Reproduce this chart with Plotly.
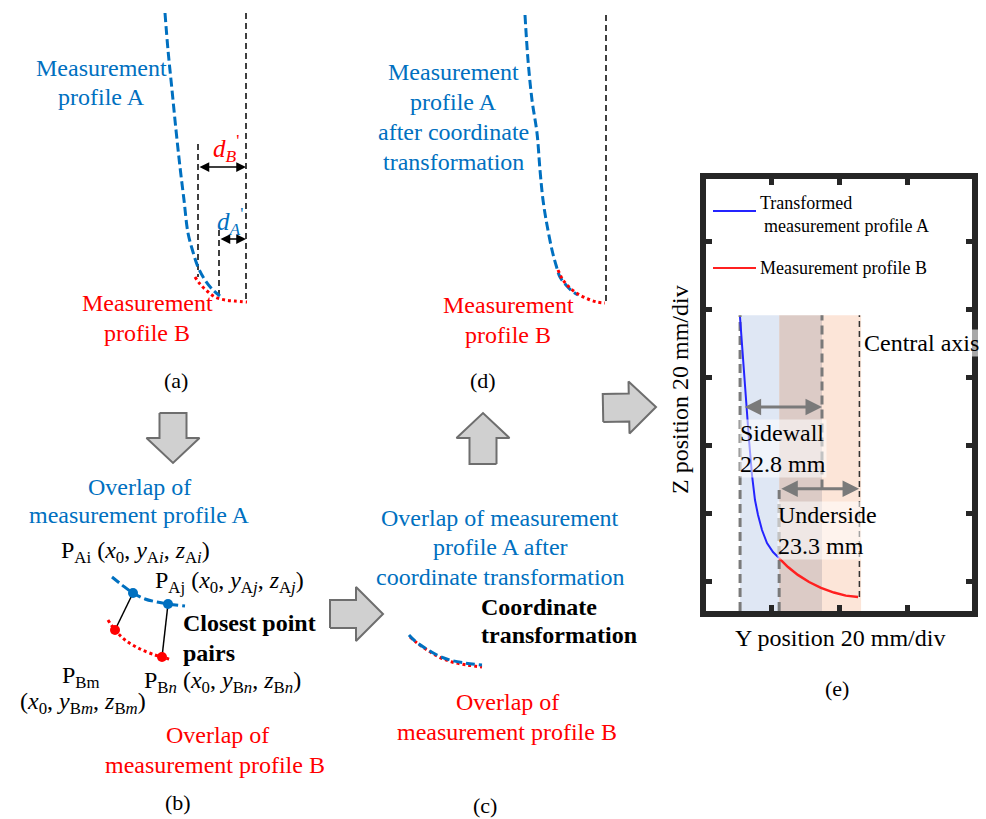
import math
import plotly.graph_objects as go

W, H = 986, 819
FONT = "Liberation Serif"
BLUE = "#0070C0"
RED = "#FF0000"
GREY_FILL = "#d0d0d0"
GREY_LINE = "#6e6e6e"

# ---------------- panel (a) : canvas pixel coordinates ----------------
a_prof_A_x = [165, 168, 172, 176, 180, 184, 188, 193, 198, 205, 213, 220]
a_prof_A_y = [13, 50, 90, 130, 167, 200, 233, 252, 267, 280, 290, 296]
a_prof_B_x = [195, 200, 207, 215, 225, 235, 247]
a_prof_B_y = [277, 284, 291, 297, 300, 301, 302]
a_guide_x = [246, 198, 219]
a_guide_top = [13, 144, 230]
a_guide_bottom = [300, 277, 295]
a_dim_from = [198, 219]
a_dim_to = [246, 246]
a_dim_y = [167, 239]

# ---------------- panel (d) ----------------
d_prof_A_x = [525, 528, 532, 537, 540, 543, 547, 552, 556, 560, 566, 572, 578]
d_prof_A_y = [15, 60, 100, 133, 170, 200, 225, 250, 265, 277, 285, 291, 295]
d_prof_B_x = [558, 563, 570, 578, 588, 597, 605]
d_prof_B_y = [270, 280, 288, 294, 299, 302, 303]
d_axis_x = 606
d_axis_y = [15, 303]

# ---------------- panel (b) ----------------
b_arc_A_x = [112, 122, 133, 145, 157, 168, 185]
b_arc_A_y = [577, 585, 593, 599, 602, 604, 606]
b_arc_B_x = [108, 115, 125, 140, 155, 162, 172]
b_arc_B_y = [620, 630, 640, 649, 655, 657, 660]
b_pts_A_x = [133, 168]
b_pts_A_y = [593, 604]
b_pts_B_x = [115, 162]
b_pts_B_y = [630, 657]

# ---------------- panel (c) ----------------
c_arc_A_x = [409, 415, 425, 437, 450, 465, 482]
c_arc_A_y = [635, 641, 648, 655, 660, 663, 665]
c_arc_B_x = [410, 417, 427, 439, 452, 467, 482]
c_arc_B_y = [637, 643, 650, 657, 662, 665, 667]

# block arrows: tail, tip, shaft width, head width, head length
block_arrows = [
    ((173, 413), (173, 463), 27, 53, 25),
    ((483, 464), (483, 413), 27, 53, 25),
    ((330, 614), (383, 614), 28, 54, 27),
    ((603, 408), (656, 407), 28, 52, 27),
]

# ---------------- panel (e) : millimetres ----------------
e_prof_A_y = [10.88, 11.76, 12.65, 13.53, 14.41, 15.29, 16.18, 17.35, 18.82, 20.59, 22.35]
e_prof_A_z = [77.65, 65.0, 53.24, 41.47, 31.18, 23.82, 19.41, 15.0, 11.18, 8.53, 6.76]
e_prof_B_y = [22.35, 25.0, 27.9, 31.2, 34.7, 38.5, 42.0, 45.6]
e_prof_B_z = [6.76, 4.1, 1.8, -0.3, -2.0, -3.4, -4.3, -4.7]
e_sidewall = [10.9, 35.0]
e_underside = [22.4, 46.5]
e_region_top = 78.2
e_central_axis = 46.0
e_sidewall_arrow = [11.8, 35.0, 51.2]
e_underside_arrow = [22.6, 45.9, 27.1]
e_ticks_y = [20, 40, 60]
e_ticks_z = [0, 20, 40, 60, 80, 100]
e_range_y = [0.88, 79.12]
e_range_z = [-8.82, 118.24]

fig = go.Figure()


def line(xs, ys, color, width, dash=None, ax="x", ay="y", shape="linear"):
    fig.add_trace(go.Scatter(x=xs, y=ys, mode="lines", xaxis=ax, yaxis=ay,
                             line=dict(color=color, width=width, dash=dash, shape=shape),
                             hoverinfo="skip", showlegend=False))


def txt(s, x, y, size=24, color="black", xanchor="center", angle=0, bg=None):
    fig.add_annotation(x=x, y=y, xref="x", yref="y", text=s, showarrow=False,
                       xanchor=xanchor, yanchor="middle", textangle=angle,
                       font=dict(family=FONT, size=size, color=color),
                       bgcolor=bg if bg else "rgba(0,0,0,0)", borderpad=0, align="left")


def dbl_arrow(x0, x1, y, color, width, size, xr="x", yr="y"):
    fig.add_annotation(x=x1, y=y, ax=x0, ay=y, xref=xr, yref=yr, axref=xr, ayref=yr,
                       text="", showarrow=True, arrowside="end+start", arrowhead=2,
                       arrowsize=size, arrowwidth=width, arrowcolor=color,
                       standoff=0, startstandoff=0)


def block_arrow(tail, tip, sw, hw, hl):
    dx, dy = tip[0] - tail[0], tip[1] - tail[1]
    L = math.hypot(dx, dy)
    ux, uy = dx / L, dy / L
    nx, ny = -uy, ux
    bx, by = tip[0] - ux * hl, tip[1] - uy * hl
    pts = [
        (tail[0] + nx * sw / 2, tail[1] + ny * sw / 2),
        (bx + nx * sw / 2, by + ny * sw / 2),
        (bx + nx * hw / 2, by + ny * hw / 2),
        tip,
        (bx - nx * hw / 2, by - ny * hw / 2),
        (bx - nx * sw / 2, by - ny * sw / 2),
        (tail[0] - nx * sw / 2, tail[1] - ny * sw / 2),
    ]
    pts.append(pts[0])
    fig.add_trace(go.Scatter(x=[p[0] for p in pts], y=[p[1] for p in pts], mode="lines",
                             fill="toself", fillcolor=GREY_FILL,
                             line=dict(color=GREY_LINE, width=2), hoverinfo="skip",
                             showlegend=False))


# ---- panel (a)
for gx, gt, gb in zip(a_guide_x, a_guide_top, a_guide_bottom):
    line([gx, gx], [gt, gb], "black", 1.5, "6px,4px")
line(a_prof_B_x, a_prof_B_y, RED, 3, "3px,3px", shape="spline")
line(a_prof_A_x, a_prof_A_y, BLUE, 3, "9px,4px", shape="spline")
for f, t, y in zip(a_dim_from, a_dim_to, a_dim_y):
    dbl_arrow(f, t, y, "black", 1.5, 1.3)
txt("<i>d<sub>B</sub></i><sup>'</sup>", 226, 148, 25, RED)
txt("<i>d<sub>A</sub></i><sup>'</sup>", 230, 221, 25, BLUE)
txt("Measurement", 101, 68, 24, BLUE)
txt("profile A", 101, 97, 24, BLUE)
txt("Measurement", 147, 303, 24, RED)
txt("profile B", 147, 333, 24, RED)
txt("(a)", 176, 380, 22)

# ---- panel (d)
line([d_axis_x, d_axis_x], d_axis_y, "black", 1.5, "6px,4px")
line(d_prof_A_x, d_prof_A_y, BLUE, 3, "9px,4px", shape="spline")
line(d_prof_B_x, d_prof_B_y, RED, 3, "3px,3px", shape="spline")
for i, s in enumerate(["Measurement", "profile A", "after coordinate", "transformation"]):
    txt(s, 453, 72 + 30 * i, 24, BLUE)
txt("Measurement", 508, 305, 24, RED)
txt("profile B", 508, 335, 24, RED)
txt("(d)", 483, 380, 22)

# ---- block arrows
for ba in block_arrows:
    block_arrow(*ba)

# ---- panel (b)
line(b_arc_A_x, b_arc_A_y, BLUE, 3, "9px,4px", shape="spline")
line(b_arc_B_x, b_arc_B_y, RED, 3, "3px,3px", shape="spline")
for xa, ya, xb, yb in zip(b_pts_A_x, b_pts_A_y, b_pts_B_x, b_pts_B_y):
    line([xa, xb], [ya, yb], "black", 1.5)
fig.add_trace(go.Scatter(x=b_pts_A_x, y=b_pts_A_y, mode="markers",
                         marker=dict(color=BLUE, size=10), hoverinfo="skip", showlegend=False))
fig.add_trace(go.Scatter(x=b_pts_B_x, y=b_pts_B_y, mode="markers",
                         marker=dict(color=RED, size=10), hoverinfo="skip", showlegend=False))
txt("Overlap of", 139, 487, 24, BLUE)
txt("measurement profile A", 139, 515, 24, BLUE)
txt("P<sub>Ai</sub> (<i>x</i><sub>0</sub>, <i>y</i><sub>A<i>i</i></sub>, <i>z</i><sub>A<i>i</i></sub>)",
    135, 552, 24)
txt("P<sub>Aj</sub> (<i>x</i><sub>0</sub>, <i>y</i><sub>A<i>j</i></sub>, <i>z</i><sub>A<i>j</i></sub>)",
    229, 582, 24)
txt("<b>Closest point</b>", 182, 623, 24, xanchor="left")
txt("<b>pairs</b>", 182, 653, 24, xanchor="left")
txt("P<sub>Bm</sub>", 81, 677, 24)
txt("(<i>x</i><sub>0</sub>, <i>y</i><sub>B<i>m</i></sub>, <i>z</i><sub>B<i>m</i></sub>)", 83, 703, 24)
txt("P<sub>B<i>n</i></sub> (<i>x</i><sub>0</sub>, <i>y</i><sub>B<i>n</i></sub>, <i>z</i><sub>B<i>n</i></sub>)",
    222, 682, 24)
txt("Overlap of", 217, 735, 24, RED)
txt("measurement profile B", 215, 765, 24, RED)
txt("(b)", 178, 802, 22)

# ---- panel (c)
line(c_arc_B_x, c_arc_B_y, RED, 3, "3px,3px", shape="spline")
line(c_arc_A_x, c_arc_A_y, BLUE, 3, "9px,4px", shape="spline")
txt("Overlap of measurement", 500, 518, 24, BLUE)
txt("profile A after", 500, 547, 24, BLUE)
txt("coordinate transformation", 500, 577, 24, BLUE)
txt("<b>Coordinate</b>", 480, 607, 24, xanchor="left")
txt("<b>transformation</b>", 480, 635, 24, xanchor="left")
txt("Overlap of", 507, 702, 24, RED)
txt("measurement profile B", 507, 732, 24, RED)
txt("(c)", 485, 805, 22)

# ---- panel (e)
sw0, sw1 = e_sidewall
us0, us1 = e_underside
zb = e_range_z[0]
for x0, x1, col in [(sw0, us0, "#dfe7f4"), (us0, sw1, "#dccbc6"), (sw1, us1, "#fce5d8")]:
    fig.add_shape(type="rect", xref="x2", yref="y2", x0=x0, x1=x1, y0=zb, y1=e_region_top,
                  fillcolor=col, line=dict(width=0), layer="below")
line([sw0, sw0], [zb, e_region_top], "#7a7a7a", 3, "9px,5px", "x2", "y2")
line([sw1, sw1], [e_sidewall_arrow[2] - 24.0, e_region_top], "#7a7a7a", 3, "9px,5px", "x2", "y2")
line([us0, us0], [zb, e_underside_arrow[2]], "#7a7a7a", 3, "9px,5px", "x2", "y2")
line([e_central_axis, e_central_axis], [e_prof_B_z[-1], e_region_top], "#333333", 1.5,
     "6px,4px", "x2", "y2")
line(e_prof_A_y, e_prof_A_z, "#2424ff", 2, None, "x2", "y2")
line(e_prof_B_y, e_prof_B_z, "#ff2020", 2.5, None, "x2", "y2")
dbl_arrow(e_sidewall_arrow[0], e_sidewall_arrow[1], e_sidewall_arrow[2], "#7a7a7a", 3, 1.1, "x2", "y2")
dbl_arrow(e_underside_arrow[0], e_underside_arrow[1], e_underside_arrow[2], "#7a7a7a", 3, 1.1, "x2", "y2")

txt("Sidewall<br>22.8 mm", 739, 448, 24, xanchor="left", bg="rgba(255,255,255,0.55)")
txt("Underside<br>23.3 mm", 777, 530, 24, xanchor="left", bg="rgba(255,255,255,0.55)")
txt("Central axis", 863, 343, 24, xanchor="left", bg="rgba(255,255,255,0.6)")

# legend
line([713, 756], [211, 211], "#2424ff", 2)
line([713, 756], [268, 268], "#ff2020", 2)
txt("Transformed", 759, 203, 18, xanchor="left")
txt("measurement profile A", 763, 226, 18, xanchor="left")
txt("Measurement profile B", 759, 268, 18, xanchor="left")

txt("Y position 20 mm/div", 840, 638, 24)
txt("Z position 20 mm/div", 680, 390, 24, angle=-90)
txt("(e)", 837, 688, 22)

fig.update_layout(
    width=W, height=H, autosize=False,
    margin=dict(l=0, r=0, t=0, b=0, pad=0),
    paper_bgcolor="white", plot_bgcolor="rgba(0,0,0,0)",
    showlegend=False,
    font=dict(family=FONT),
    xaxis=dict(range=[0, W], domain=[0, 1], visible=False, fixedrange=True),
    yaxis=dict(range=[H, 0], domain=[0, 1], visible=False, fixedrange=True),
    xaxis2=dict(range=e_range_y, domain=[706 / W, 972 / W], anchor="y2",
                showline=True, linewidth=6, linecolor="#262626", mirror="allticks",
                ticks="inside", ticklen=6, tickwidth=5, tickcolor="#262626",
                tickvals=e_ticks_y, showticklabels=False, showgrid=False, zeroline=False),
    yaxis2=dict(range=e_range_z, domain=[(H - 611) / H, (H - 179) / H], anchor="x2",
                showline=True, linewidth=6, linecolor="#262626", mirror="allticks",
                ticks="inside", ticklen=6, tickwidth=5, tickcolor="#262626",
                tickvals=e_ticks_z, showticklabels=False, showgrid=False, zeroline=False),
)

fig.write_html("out.html")
